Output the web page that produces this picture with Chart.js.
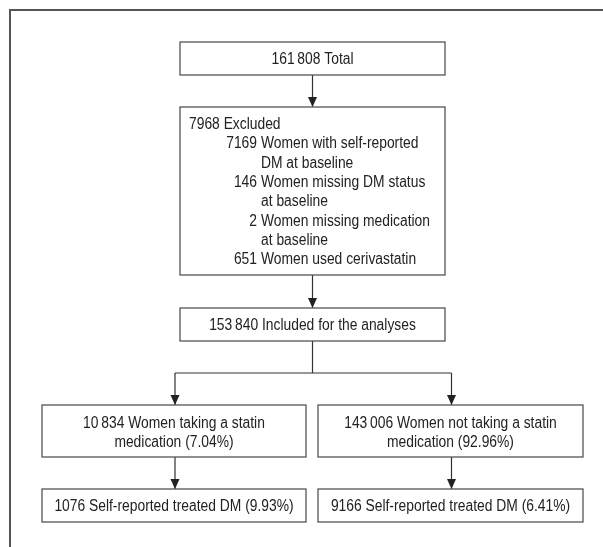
<!DOCTYPE html>
<html>
<head>
<meta charset="utf-8">
<script src="https://cdn.jsdelivr.net/npm/chart.js@4"></script>
<style>
  html, body { margin: 0; padding: 0; background: #fff; }
  #flow { display: block; }
</style>
</head>
<body>
<canvas id="flow" width="603" height="547"></canvas>
<script>
// Flow chart data
const totalLabel = '161\u2009808 Total';
const excludedHeader = '7968 Excluded';
const excludedCounts = ['7169', '146', '2', '651'];
const excludedReasons = [
    ['Women with self-reported', 'DM at baseline'],
    ['Women missing DM status', 'at baseline'],
    ['Women missing medication', 'at baseline'],
    ['Women used cerivastatin']
];
const includedLabel = '153\u2009840 Included for the analyses';
const groupLabels = [
    ['10\u2009834 Women taking a statin', 'medication (7.04%)'],
    ['143\u2009006 Women not taking a statin', 'medication (92.96%)']
];
const outcomeLabels = [
    '1076 Self-reported treated DM (9.93%)',
    '9166 Self-reported treated DM (6.41%)'
];

// Layout (chart units = pixels of the 603x547 picture)
const layout = {
    total:    { x0: 180, x1: 445, y0: 42,  y1: 75 },
    excluded: { x0: 180, x1: 445, y0: 107, y1: 275 },
    included: { x0: 180, x1: 445, y0: 308, y1: 341 },
    groups:   [{ x0: 42, x1: 306, y0: 405, y1: 457 }, { x0: 318, x1: 583, y0: 405, y1: 457 }],
    outcomes: [{ x0: 42, x1: 306, y0: 489, y1: 522 }, { x0: 318, x1: 583, y0: 489, y1: 522 }],
    branchY: 373,
    lineHeight: 19.3
};

// condensed look: Arial metrics squeezed horizontally
const FONT = '16px "Liberation Sans", Arial, sans-serif';
const SQUEEZE = 0.865;
const INK = '#222222';
const EDGE = '#555555';

function midX(b) { return (b.x0 + b.x1) / 2; }

// connectors built from the layout
const connectors = [
    [{ x: midX(layout.total), y: layout.total.y1 }, { x: midX(layout.total), y: layout.excluded.y0 }],
    [{ x: midX(layout.excluded), y: layout.excluded.y1 }, { x: midX(layout.excluded), y: layout.included.y0 }],
    [{ x: midX(layout.included), y: layout.included.y1 }, { x: midX(layout.included), y: layout.branchY }],
    [{ x: midX(layout.groups[0]) + 1, y: layout.branchY }, { x: midX(layout.groups[1]) + 1, y: layout.branchY }],
    [{ x: midX(layout.groups[0]) + 1, y: layout.branchY }, { x: midX(layout.groups[0]) + 1, y: layout.groups[0].y0 }],
    [{ x: midX(layout.groups[1]) + 1, y: layout.branchY }, { x: midX(layout.groups[1]) + 1, y: layout.groups[1].y0 }],
    [{ x: midX(layout.groups[0]) + 1, y: layout.groups[0].y1 }, { x: midX(layout.groups[0]) + 1, y: layout.outcomes[0].y0 }],
    [{ x: midX(layout.groups[1]) + 1, y: layout.groups[1].y1 }, { x: midX(layout.groups[1]) + 1, y: layout.outcomes[1].y0 }]
];
const arrowed = [true, true, false, false, true, true, true, true];

const datasets = connectors.map(function(pts, i) {
    return {
        data: pts,
        showLine: true,
        borderColor: '#333',
        borderWidth: 1.2,
        pointRadius: 0,
        arrow: arrowed[i]
    };
});
// outer frame (top and left rule)
datasets.push({
    data: [{ x: 10, y: 547 }, { x: 10, y: 10 }, { x: 603, y: 10 }],
    showLine: true,
    borderColor: '#555',
    borderWidth: 2,
    pointRadius: 0,
    arrow: false
});

const flowPlugin = {
    id: 'flowBoxes',
    afterDatasetsDraw: function(chart) {
        const ctx = chart.ctx;
        const sx = chart.scales.x, sy = chart.scales.y;
        const px = function(v) { return sx.getPixelForValue(v); };
        const py = function(v) { return sy.getPixelForValue(v); };

        // arrow heads
        chart.data.datasets.forEach(function(ds) {
            if (!ds.arrow) return;
            const end = ds.data[ds.data.length - 1];
            const x = px(end.x), y = py(end.y);
            ctx.save();
            ctx.fillStyle = '#222';
            ctx.beginPath();
            ctx.moveTo(x, y);
            ctx.lineTo(x - 4.5, y - 10);
            ctx.lineTo(x + 4.5, y - 10);
            ctx.closePath();
            ctx.fill();
            ctx.restore();
        });

        function box(b) {
            ctx.save();
            ctx.strokeStyle = EDGE;
            ctx.lineWidth = 1.3;
            ctx.strokeRect(px(b.x0), py(b.y0), px(b.x1) - px(b.x0), py(b.y1) - py(b.y0));
            ctx.restore();
        }
        function text(str, x, y, align) {
            ctx.save();
            ctx.font = FONT;
            ctx.fillStyle = INK;
            ctx.textAlign = align || 'center';
            ctx.textBaseline = 'alphabetic';
            ctx.translate(px(x), py(y));
            ctx.scale(SQUEEZE, 1);
            ctx.fillText(str, 0, 0);
            ctx.restore();
        }

        const lh = layout.lineHeight;

        box(layout.total);
        text(totalLabel, midX(layout.total), layout.total.y1 - 11);

        const ex = layout.excluded;
        box(ex);
        text(excludedHeader, ex.x0 + 9, ex.y0 + 22, 'left');
        let line = 1;
        excludedCounts.forEach(function(c, i) {
            text(c, ex.x0 + 77, ex.y0 + 22 + line * lh, 'right');
            excludedReasons[i].forEach(function(r) {
                text(r, ex.x0 + 81, ex.y0 + 22 + line * lh, 'left');
                line++;
            });
        });

        box(layout.included);
        text(includedLabel, midX(layout.included), layout.included.y1 - 11);

        layout.groups.forEach(function(b, i) {
            box(b);
            text(groupLabels[i][0], midX(b), b.y0 + 23);
            text(groupLabels[i][1], midX(b), b.y0 + 23 + lh);
        });
        layout.outcomes.forEach(function(b, i) {
            box(b);
            text(outcomeLabels[i], midX(b), b.y1 - 11);
        });
    }
};

new Chart(document.getElementById('flow'), {
    type: 'scatter',
    data: { datasets: datasets },
    options: {
        responsive: false,
        animation: false,
        devicePixelRatio: 1,
        layout: { padding: 0 },
        plugins: { legend: { display: false }, tooltip: { enabled: false } },
        scales: {
            x: { type: 'linear', min: 0, max: 603, display: false },
            y: { type: 'linear', min: 0, max: 547, reverse: true, display: false }
        }
    },
    plugins: [flowPlugin]
});
</script>
</body>
</html>
